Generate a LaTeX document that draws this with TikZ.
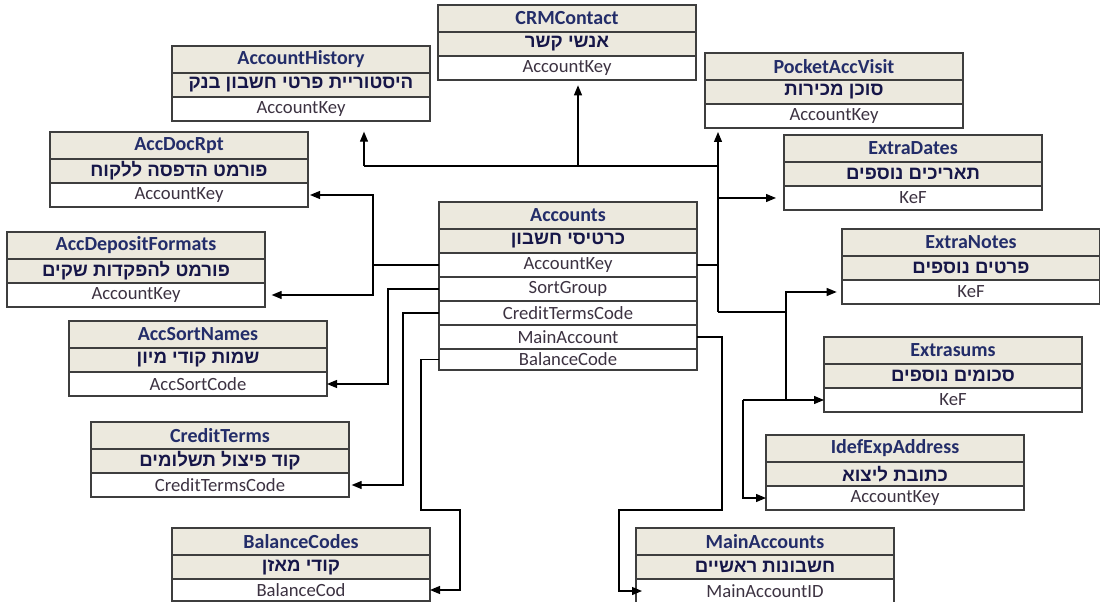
\documentclass[tikz,border=0pt]{standalone}
\usepackage{fontspec}
\setmainfont{Carlito}
\newfontfamily\hebfont[Script=Hebrew]{Liberation Sans}
\usetikzlibrary{positioning,arrows.meta}
\TeXXeTstate=1

\definecolor{hdrfill}{RGB}{236,233,222}
\definecolor{boxline}{RGB}{62,62,62}
\definecolor{titleblue}{RGB}{35,45,105}
\definecolor{hebblue}{RGB}{22,22,72}
\definecolor{fldtext}{RGB}{60,50,65}

\newcommand{\hebtxt}[1]{\beginR #1\endR}

\begin{document}
\begin{tikzpicture}[x=0.75pt,y=0.75pt,yscale=-1,xscale=1,
  node distance=0pt,
  row/.style={draw=boxline, line width=1.1pt, outer sep=0pt, inner sep=0pt, minimum width=193.5pt, minimum height=18pt},
  hdr/.style={row, fill=hdrfill, minimum height=20.25pt, text=titleblue, font=\fontsize{15}{18}\selectfont\bfseries},
  heb/.style={row, fill=hdrfill, text=hebblue, font=\hebfont\bfseries\fontsize{14}{16}\selectfont},
  fld/.style={row, fill=white, text=fldtext, font=\fontsize{14}{16}\selectfont},
  link/.style={line width=0.9pt, black},
  arr/.style={link, -{Triangle[length=7.5pt,width=6pt]}}]
\useasboundingbox (0,0) rectangle (1100,602);

% Table CRMContact
\node[hdr, anchor=north west] (crm-t) at (438,5) {CRMContact};
\node[heb, below=of crm-t] (crm-h) {\hebtxt{אנשי קשר}};
\node[fld, below=of crm-h] (crm-f) {AccountKey};
% Table AccountHistory
\node[hdr, anchor=north west] (hist-t) at (172,46) {AccountHistory};
\node[heb, below=of hist-t] (hist-h) {\hebtxt{היסטוריית פרטי חשבון בנק}};
\node[fld, below=of hist-h] (hist-f) {AccountKey};
% Table PocketAccVisit
\node[hdr, anchor=north west] (pocket-t) at (705,53) {PocketAccVisit};
\node[heb, below=of pocket-t] (pocket-h) {\hebtxt{סוכן מכירות}};
\node[fld, below=of pocket-h] (pocket-f) {AccountKey};
% Table ExtraDates
\node[hdr, anchor=north west] (xdates-t) at (784,135) {ExtraDates};
\node[heb, below=of xdates-t] (xdates-h) {\hebtxt{תאריכים נוספים}};
\node[fld, below=of xdates-h] (xdates-f) {KeF};
% Table AccDocRpt
\node[hdr, anchor=north west] (doc-t) at (50,132) {AccDocRpt};
\node[heb, below=of doc-t] (doc-h) {\hebtxt{פורמט הדפסה ללקוח}};
\node[fld, below=of doc-h] (doc-f) {AccountKey};
% Table AccDepositFormats
\node[hdr, anchor=north west] (dep-t) at (7,232) {AccDepositFormats};
\node[heb, below=of dep-t] (dep-h) {\hebtxt{פורמט להפקדות שקים}};
\node[fld, below=of dep-h] (dep-f) {AccountKey};
% Table Accounts
\node[hdr, anchor=north west] (acc-t) at (439,202) {Accounts};
\node[heb, below=of acc-t] (acc-h) {\hebtxt{כרטיסי חשבון}};
\node[fld, below=of acc-h] (acc-k) {AccountKey};
\node[fld, below=of acc-k] (acc-s) {SortGroup};
\node[fld, below=of acc-s] (acc-c) {CreditTermsCode};
\node[fld, below=of acc-c] (acc-m) {MainAccount};
\node[fld, below=of acc-m, minimum height=15.75pt] (acc-b) {BalanceCode};
\draw[boxline, line width=2pt] (acc-b.south west) -- (acc-b.south east);
% Table ExtraNotes
\node[hdr, anchor=north west] (xnotes-t) at (842,229) {ExtraNotes};
\node[heb, below=of xnotes-t] (xnotes-h) {\hebtxt{פרטים נוספים}};
\node[fld, below=of xnotes-h] (xnotes-f) {KeF};
% Table AccSortNames
\node[hdr, anchor=north west] (sort-t) at (69,321) {AccSortNames};
\node[heb, below=of sort-t] (sort-h) {\hebtxt{שמות קודי מיון}};
\node[fld, below=of sort-h] (sort-f) {AccSortCode};
% Table Extrasums
\node[hdr, anchor=north west] (xsums-t) at (824,337) {Extrasums};
\node[heb, below=of xsums-t] (xsums-h) {\hebtxt{סכומים נוספים}};
\node[fld, below=of xsums-h] (xsums-f) {KeF};
% Table CreditTerms
\node[hdr, anchor=north west] (credit-t) at (91,422) {CreditTerms};
\node[heb, below=of credit-t] (credit-h) {\hebtxt{קוד פיצול תשלומים}};
\node[fld, below=of credit-h] (credit-f) {CreditTermsCode};
% Table IdefExpAddress
\node[hdr, anchor=north west] (idef-t) at (766,435) {IdefExpAddress};
\node[heb, below=of idef-t] (idef-h) {\hebtxt{כתובת ליצוא}};
\node[fld, below=of idef-h] (idef-f) {AccountKey};
% Table BalanceCodes
\node[hdr, anchor=north west] (bal-t) at (172,528) {BalanceCodes};
\node[heb, below=of bal-t] (bal-h) {\hebtxt{קודי מאזן}};
\node[fld, below=of bal-h, minimum height=16.5pt] (bal-f) {BalanceCod};
% Table MainAccounts
\node[hdr, anchor=north west] (main-t) at (636,528) {MainAccounts};
\node[heb, below=of main-t] (main-h) {\hebtxt{חשבונות ראשיים}};
\node[fld, below=of main-h] (main-f) {MainAccountID};

%Links on the left of AccountKey
\coordinate (lbus) at (373,265);
\draw[link] (acc-k.west) -- (lbus);
\draw[arr, shorten >=1.5pt] (lbus) |- (doc-f.east);
\draw[arr, shorten >=5pt] (lbus) |- (dep-f.east);

%Links on the right of AccountKey
\coordinate (rbus) at (718,265);
\coordinate (rlow) at (718,312);
\coordinate (tbus) at (718,166);
\coordinate (hbus) at (364,166);
\coordinate (cbus) at (578,166);
\draw[link] (acc-k.east) -- (rbus);
\draw[arr, shorten >=3pt] (rlow) -- (rlow |- pocket-f.south);
\draw[link] (tbus) -- (hbus);
\draw[arr, shorten >=8pt] (hbus) -- (hbus |- hist-f.south);
\draw[arr, shorten >=4pt] (cbus) -- (cbus |- crm-f.south);
\draw[arr, shorten >=6pt] (rbus |- xdates-f.west) -- (xdates-f.west);
\coordinate (ebus) at (786,312);
\coordinate (ibus) at (743,400);
\draw[link] (rlow) -- (ebus);
\draw[arr, shorten >=4pt] (ebus) |- (xnotes-f.west);
\draw[link] (ebus) -- (ebus |- xsums-f.west);
\draw[arr] (ibus) -- (xsums-f.west);
\draw[arr] (ibus) |- (idef-f.west);

%SortGroup, CreditTermsCode, BalanceCode, MainAccount
\coordinate (sbus) at (388,289);
\draw[arr] (acc-s.west) -- (sbus) |- (sort-f.east);
\coordinate (credbus) at (403,313);
\draw[arr, shorten >=2pt] (acc-c.west) -- (credbus) |- (credit-f.east);
\coordinate (bturn) at (421,510);
\coordinate (bright) at (460,510);
\draw[arr] (acc-b.west) -| (bturn) -- (bright) |- (bal-f.east);
\coordinate (mturn) at (722,510);
\coordinate (mdown) at (619,510);
\draw[arr, shorten >=-4.5pt] (acc-m.east) -| (mturn) -- (mdown) |- (main-f.west);

\end{tikzpicture}
\end{document}
